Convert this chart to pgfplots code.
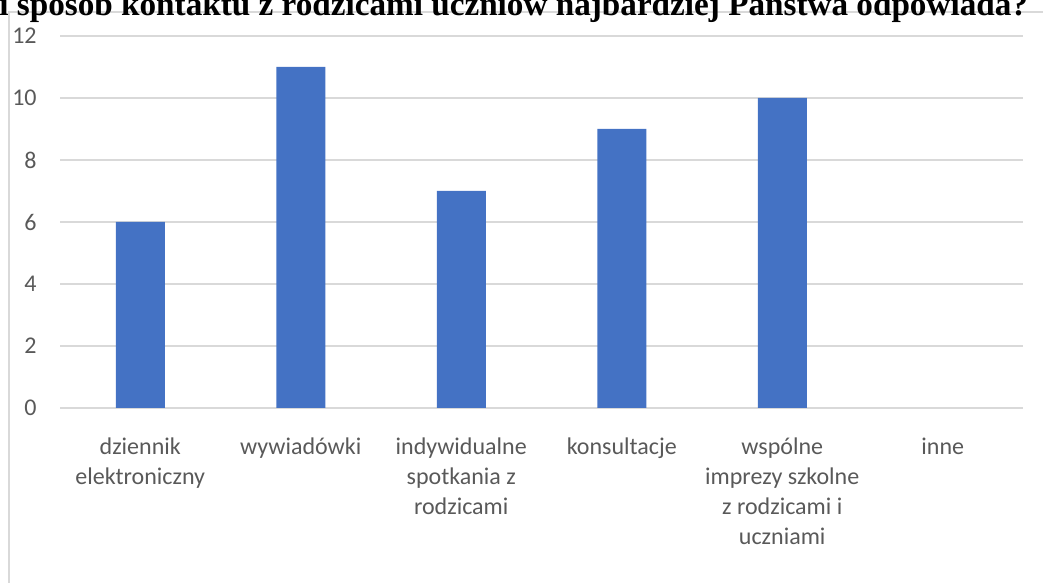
\documentclass[border=0pt]{standalone}
\usepackage{pgfplots}
\pgfplotsset{compat=1.18}
\usepackage{fontspec}
\setmainfont{Carlito}
\newfontfamily\titlefont{Liberation Serif}
\definecolor{gridc}{HTML}{D9D9D9}
\definecolor{barc}{HTML}{4472C4}
\definecolor{labc}{HTML}{595959}
\begin{document}
\begin{tikzpicture}
\useasboundingbox (0,0) rectangle (521.5pt,291.5pt);
\clip (0,0) rectangle (521.5pt,291.5pt);
\draw[gridc, line width=0.75pt] (4.5pt,-10pt) -- (4.5pt,285.5pt) -- (540pt,285.5pt);
\node[anchor=base west, inner sep=0pt, font=\titlefont\bfseries\fontsize{16.6}{19}\selectfont] at (-0.5pt,283.5pt) {i sposób kontaktu z rodzicami uczniów najbardziej Państwa odpowiada?};
\begin{axis}[
  at={(30pt,87.5pt)}, anchor=south west,
  scale only axis, width=481.5pt, height=186pt,
  xmin=-0.5, xmax=5.5, ymin=0, ymax=12,
  ybar, bar width=24.5pt,
  axis line style={draw=none},
  tick style={draw=none},
  ymajorgrids, grid style={gridc, line width=0.75pt},
  ytick={0,2,4,6,8,10,12},
  xtick={0,1,2,3,4,5},
  xticklabels={{dziennik\\elektroniczny},{wywiadówki},{indywidualne\\spotkania z\\rodzicami},{konsultacje},{wspólne\\imprezy szkolne\\z rodzicami i\\uczniami},{inne}},
  /pgf/number format/assume math mode=true,
  yticklabel style={anchor=east, inner sep=0pt, xshift=-11.5pt, font=\fontsize{12}{15}\selectfont, text=labc},
  xticklabel style={anchor=north, align=center, inner sep=0pt, yshift=-10.3pt, font=\fontsize{12}{15}\selectfont, text=labc},
]
% "inne" has value 0 and draws no bar
\addplot[fill=barc, draw=none] coordinates {(0,6) (1,11) (2,7) (3,9) (4,10)};
\end{axis}
\end{tikzpicture}
\end{document}
